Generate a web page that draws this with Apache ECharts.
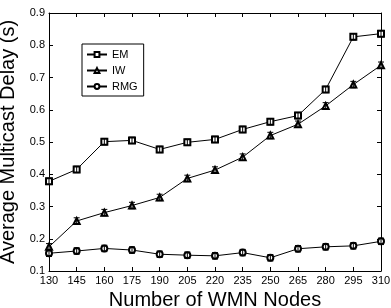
<!DOCTYPE html>
<html>
<head>
<meta charset="utf-8">
<script src="https://cdn.jsdelivr.net/npm/echarts@6/dist/echarts.min.js"></script>
<style>
  html, body { margin: 0; padding: 0; background: #fff; }
  #chart { width: 391px; height: 308px; }
</style>
</head>
<body>
<div id="chart"></div>
<script>
  // number of WMN nodes
  var nodes = ['130', '145', '160', '175', '190', '205', '220', '235', '250', '265', '280', '295', '310'];
  var emDelay  = [0.378, 0.415, 0.501, 0.505, 0.477, 0.499, 0.508, 0.539, 0.563, 0.582, 0.663, 0.826, 0.836];
  var iwDelay  = [0.175, 0.255, 0.281, 0.303, 0.328, 0.387, 0.413, 0.453, 0.520, 0.555, 0.612, 0.678, 0.738];
  var rmgDelay = [0.155, 0.162, 0.170, 0.165, 0.152, 0.149, 0.147, 0.157, 0.141, 0.169, 0.175, 0.178, 0.192];
  var errSize = 0.01;

  var font = 'Liberation Sans, Arial, sans-serif';

  function errData(arr) {
    return arr.map(function (v, i) { return [i, v - errSize, v + errSize]; });
  }

  // little error bars with caps
  function renderErr(params, api) {
    var lo = api.coord([api.value(0), api.value(1)]);
    var hi = api.coord([api.value(0), api.value(2)]);
    var w = 3;
    var st = { stroke: '#000', lineWidth: 1 };
    return {
      type: 'group',
      children: [
        { type: 'line', shape: { x1: lo[0], y1: lo[1], x2: hi[0], y2: hi[1] }, style: st },
        { type: 'line', shape: { x1: lo[0] - w, y1: lo[1], x2: lo[0] + w, y2: lo[1] }, style: st },
        { type: 'line', shape: { x1: hi[0] - w, y1: hi[1], x2: hi[0] + w, y2: hi[1] }, style: st }
      ]
    };
  }

  function lineSeries(name, data, sym) {
    return {
      name: name,
      type: 'line',
      data: data,
      symbol: sym,
      symbolSize: 6,
      showAllSymbol: true,
      lineStyle: { color: '#000', width: 1 },
      itemStyle: { color: '#000', borderColor: '#000', borderWidth: 1 },
      z: 3
    };
  }

  function errSeries(arr) {
    return {
      type: 'custom',
      renderItem: renderErr,
      data: errData(arr),
      encode: { x: 0, y: [1, 2] },
      silent: true,
      z: 4
    };
  }

  var chart = echarts.init(document.getElementById('chart'));
  chart.setOption({
    animation: false,
    backgroundColor: '#fff',
    grid: { left: 49, top: 13, width: 332, height: 258, outerBoundsMode: 'none', containLabel: false },
    legend: {
      left: 82, top: 44,
      orient: 'vertical',
      data: ['EM', 'IW', 'RMG'],
      itemWidth: 20, itemHeight: 6, itemGap: 5,
      padding: [5, 6, 4, 4],
      borderColor: '#000', borderWidth: 1,
      backgroundColor: '#fff',
      textStyle: { fontFamily: font, fontSize: 11, color: '#000' }
    },
    xAxis: [{
      type: 'category',
      data: nodes,
      boundaryGap: false,
      name: 'Number of WMN Nodes',
      nameLocation: 'middle',
      nameGap: 18,
      nameTextStyle: { fontFamily: font, fontSize: 20, color: '#000' },
      axisLine: { lineStyle: { color: '#000', width: 1 } },
      axisTick: { inside: true, length: 4, alignWithLabel: true, lineStyle: { color: '#000' } },
      axisLabel: { fontFamily: font, fontSize: 11, color: '#000', margin: 4, interval: 0 },
      splitLine: { show: false }
    }, {
      type: 'category',
      data: nodes,
      boundaryGap: false,
      position: 'top',
      axisLine: { lineStyle: { color: '#000', width: 1 } },
      axisTick: { inside: true, length: 4, lineStyle: { color: '#000' } },
      axisLabel: { show: false },
      splitLine: { show: false }
    }],
    yAxis: [{
      type: 'value',
      min: 0.1, max: 0.9, interval: 0.1,
      name: 'Average Multicast Delay (s)',
      nameLocation: 'middle',
      nameGap: 21,
      nameTextStyle: { fontFamily: font, fontSize: 20, color: '#000' },
      axisLine: { show: true, lineStyle: { color: '#000', width: 1 } },
      axisTick: { show: true, inside: true, length: 4, lineStyle: { color: '#000' } },
      axisLabel: { fontFamily: font, fontSize: 11, color: '#000', margin: 4,
        formatter: function (v) { return v.toFixed(1); } },
      splitLine: { show: false }
    }, {
      type: 'value',
      min: 0.1, max: 0.9, interval: 0.1,
      position: 'right',
      axisLine: { show: true, lineStyle: { color: '#000', width: 1 } },
      axisTick: { show: true, inside: true, length: 4, lineStyle: { color: '#000' } },
      axisLabel: { show: false },
      splitLine: { show: false }
    }],
    series: [
      lineSeries('EM', emDelay, 'emptyRect'),
      lineSeries('IW', iwDelay, 'emptyTriangle'),
      lineSeries('RMG', rmgDelay, 'emptyCircle'),
      errSeries(emDelay),
      errSeries(iwDelay),
      errSeries(rmgDelay)
    ]
  });
</script>
</body>
</html>
